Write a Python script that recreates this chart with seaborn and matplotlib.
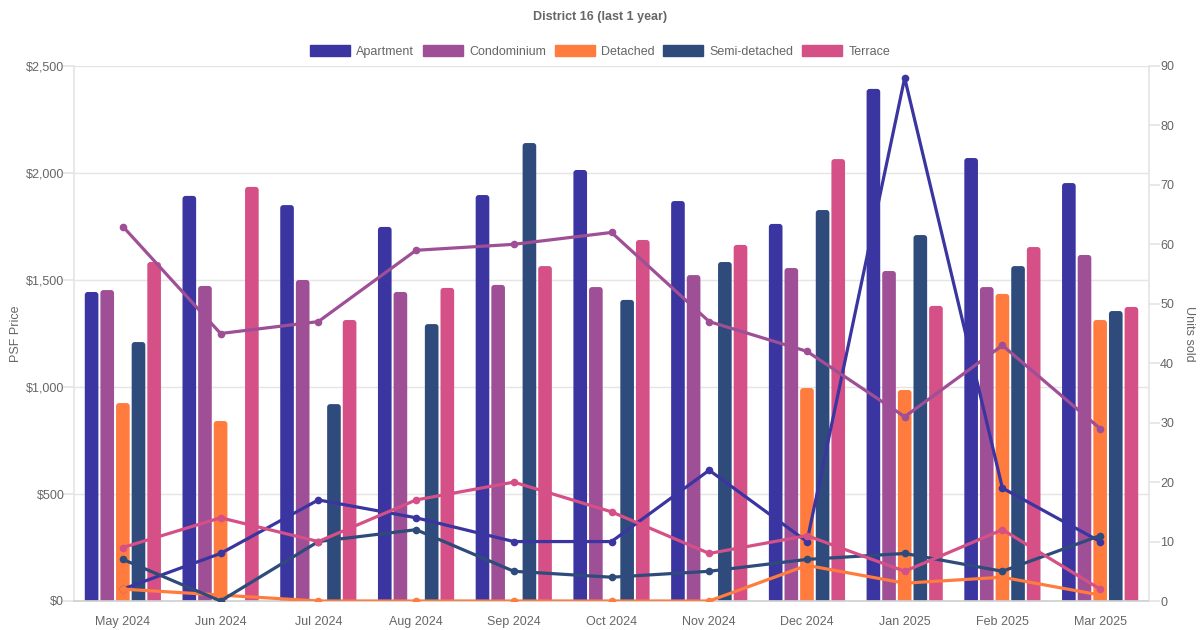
import pandas as pd
import numpy as np
import seaborn as sns
import matplotlib.pyplot as plt
from matplotlib.patches import FancyBboxPatch, Patch
from matplotlib.ticker import FuncFormatter, MultipleLocator

# Data
months = ['May 2024', 'Jun 2024', 'Jul 2024', 'Aug 2024', 'Sep 2024', 'Oct 2024',
          'Nov 2024', 'Dec 2024', 'Jan 2025', 'Feb 2025', 'Mar 2025']
types = ['Apartment', 'Condominium', 'Detached', 'Semi-detached', 'Terrace']
colors = ['#3a35a0', '#9f4f96', '#ff7b3e', '#2e4b7b', '#d45087']

# PSF price (bars), NaN = no transactions
psf_apartment = [1444, 1893, 1850, 1748, 1897, 2014, 1869, 1762, 2393, 2070, 1953]
psf_condo = [1453, 1472, 1500, 1444, 1477, 1467, 1523, 1556, 1542, 1467, 1617]
psf_detached = [925, 841, np.nan, np.nan, np.nan, np.nan, np.nan, 995, 986, 1435, 1313]
psf_semi = [1210, np.nan, 920, 1294, 2140, 1407, 1584, 1827, 1710, 1565, 1355]
psf_terrace = [1584, 1935, 1313, 1463, 1565, 1687, 1664, 2065, 1379, 1654, 1374]

# Units sold (lines)
units_apartment = [2, 8, 17, 14, 10, 10, 22, 10, 88, 19, 10]
units_condo = [63, 45, 47, 59, 60, 62, 47, 42, 31, 43, 29]
units_detached = [2, 1, 0, 0, 0, 0, 0, 6, 3, 4, 1]
units_semi = [7, 0, 10, 12, 5, 4, 5, 7, 8, 5, 11]
units_terrace = [9, 14, 10, 17, 20, 15, 8, 11, 5, 12, 2]

psf = [psf_apartment, psf_condo, psf_detached, psf_semi, psf_terrace]
units = [units_apartment, units_condo, units_detached, units_semi, units_terrace]

rows = []
for t, p, u in zip(types, psf, units):
    for i, m in enumerate(months):
        rows.append({'month': m, 'pos': i, 'type': t, 'psf': p[i], 'units': u[i]})
df = pd.DataFrame(rows)

sns.set_theme(style='white')
plt.rcParams['font.family'] = ['Liberation Sans', 'DejaVu Sans']
txt = '#666666'
grid = '#e5e5e5'

fig = plt.figure(figsize=(12, 6.3), dpi=100)
ax = fig.add_axes([74 / 1200, 29 / 630, (1149 - 74) / 1200, (601 - 66) / 630])

sns.barplot(data=df, x='month', y='psf', hue='type', order=months, hue_order=types,
            palette=colors, width=0.8, ax=ax, legend=False, saturation=1)

ax.set_xlim(-0.5, len(months) - 0.5)
ax.set_ylim(0, 2500)

# rounded tops like the original (replace rectangles)
px_x = 1.0 / 97.7          # category units per pixel
px_y = 2500 / 535.0        # dollars per pixel
aspect = px_y / px_x
r = 3 * px_x
bars = list(ax.patches)
for b in bars:
    h = b.get_height()
    if np.isnan(h) or h == 0:
        b.remove()
        continue
    x0 = b.get_x() + 1 * px_x
    w = b.get_width() - 2 * px_x
    fc = b.get_facecolor()
    b.remove()
    fb = FancyBboxPatch((x0, -4 * px_y), w, h + 4 * px_y,
                        boxstyle=f'round,pad=0,rounding_size={r}',
                        mutation_aspect=aspect, facecolor=fc, edgecolor='none',
                        zorder=2)
    ax.add_patch(fb)

ax.yaxis.set_major_locator(MultipleLocator(500))
ax.yaxis.set_major_formatter(FuncFormatter(lambda v, _: f'${v:,.0f}'))
ax.grid(axis='y', color=grid, linewidth=1)
ax.set_axisbelow(True)
ax.tick_params(axis='y', length=8, color=grid, labelcolor=txt, labelsize=9, pad=-1)
ax.tick_params(axis='x', length=0, labelcolor=txt, labelsize=9, pad=11)
ax.set_xlabel('')
ax.set_ylabel('PSF Price', color=txt, fontsize=9)
ax.yaxis.set_label_coords(-52 / 1075, 0.5)
for s in ['left', 'right', 'bottom']:
    ax.spines[s].set_color(grid)
ax.spines['bottom'].set_color('#d0d0d0')
ax.spines['top'].set_visible(False)

# units sold on a second axis
ax2 = ax.twinx()
for t, c in zip(types, colors):
    sub = df[df['type'] == t]
    sns.lineplot(data=sub, x='pos', y='units', color=c, linewidth=2.3, marker='o',
                 markersize=5.5, markeredgewidth=0, ax=ax2, legend=False)
ax2.set_ylim(0, 90)
ax2.set_xlim(-0.5, len(months) - 0.5)
ax2.yaxis.set_major_locator(MultipleLocator(10))
ax2.tick_params(axis='y', length=8, color=grid, labelcolor=txt, labelsize=9, pad=0)
ax2.set_ylabel('Units sold', color=txt, fontsize=9, rotation=270, va='center')
ax2.yaxis.set_label_coords(1 + 40 / 1075, 0.5)
ax2.set_xlabel('')
for s in ['left', 'right', 'bottom', 'top']:
    ax2.spines[s].set_visible(False)

handles = [Patch(facecolor=c, edgecolor=c, label=t) for t, c in zip(types, colors)]
fig.legend(handles=handles, loc='center', bbox_to_anchor=(0.5, 1 - 51.5 / 630), ncol=5,
           frameon=False, fontsize=9, handlelength=3.2, handleheight=0.9,
           handletextpad=0.5, columnspacing=0.7, labelcolor=txt)
fig.text(0.5, 1 - 17 / 630, 'District 16 (last 1 year)', ha='center', va='center',
         fontsize=9, fontweight='bold', color=txt)

fig.savefig('out.png', dpi=100)
